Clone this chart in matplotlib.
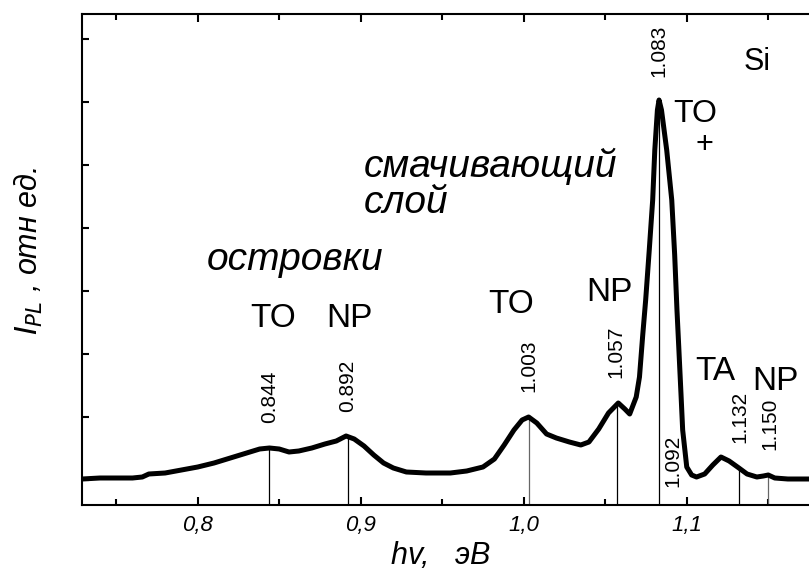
import matplotlib
matplotlib.use("Agg")
import matplotlib.pyplot as plt
import numpy as np
from matplotlib.ticker import MultipleLocator, FixedLocator, NullFormatter

plt.rcParams['font.family'] = ['Liberation Sans', 'DejaVu Sans']

# Photoluminescence spectrum (energy, eV ; intensity, arb. units)
energy = [0.729, 0.740, 0.750, 0.760, 0.766, 0.770, 0.780, 0.790, 0.800, 0.810,
          0.820, 0.830, 0.838, 0.844, 0.850, 0.856, 0.862, 0.870, 0.878, 0.885,
          0.891, 0.896, 0.902, 0.908, 0.914, 0.920, 0.928, 0.940, 0.955, 0.965,
          0.975, 0.982, 0.988, 0.994, 0.999, 1.003, 1.008, 1.014, 1.020, 1.028,
          1.035, 1.040, 1.046, 1.052, 1.058, 1.062, 1.065, 1.069, 1.071, 1.073,
          1.0748, 1.077, 1.0791, 1.0804, 1.082, 1.083, 1.0845, 1.0853, 1.0877, 1.0908,
          1.0926, 1.094, 1.0951, 1.0965, 1.0975, 1.100, 1.103, 1.106, 1.111, 1.116,
          1.121, 1.126, 1.132, 1.137, 1.143, 1.147, 1.150, 1.154, 1.162, 1.175]
intensity = [26, 27, 27, 27, 28, 31, 32, 35, 38, 42,
             47, 52, 56, 57, 56, 53, 54, 57, 61, 64,
             69, 66, 59, 50, 42, 37, 33, 32, 32, 34,
             38, 46, 60, 75, 85, 88, 82, 71, 67, 63,
             60, 63, 76, 92, 102, 96, 91, 108, 128, 170,
             205, 255, 305, 355, 395, 405, 395, 385, 355, 305,
             250, 195, 158, 110, 75, 38, 30, 28, 31, 40,
             48, 44, 37, 31, 28, 29, 30, 27, 26, 26]

# marked peak positions (eV) and their labels
line_positions = [0.844, 0.892, 1.003, 1.057, 1.083, 1.132, 1.150]
line_colors = ['black', 'black', '#666666', 'black', 'black', 'black', '#666666']

value_labels = ['0.844', '0.892', '1.003', '1.057', '1.083', '1.092', '1.132', '1.150']
value_label_x = [0.844, 0.892, 1.003, 1.0564, 1.083, 1.0914, 1.1325, 1.151]
value_label_y = [82, 93, 113, 127, 428, 18, 62, 55]

big_labels = ['TO', 'NP', 'TO', 'NP', 'TO', 'Si', 'TA', 'NP']
big_label_x = [0.846, 0.893, 0.9923, 1.0525, 1.1052, 1.143, 1.1178, 1.1546]
big_label_y = [178, 178, 192, 204, 383, 435, 125, 115]
big_label_size = [24, 24, 24, 24, 23, 22, 24, 24]

x_ticks = [0.8, 0.9, 1.0, 1.1]
x_tick_labels = ['0,8', '0,9', '1,0', '1,1']

fig = plt.figure(figsize=(8.09, 5.73), dpi=100)
ax = fig.add_axes([82/809, 1-505/573, 1-82/809, (505-14)/573])

ax.plot(energy, intensity, color='black', lw=3.6, solid_joinstyle='round', zorder=3)

for xp, c in zip(line_positions, line_colors):
    top = np.interp(xp, energy, intensity)
    ax.vlines(xp, 0, top, color=c, lw=0.9, zorder=2)

for t, x, y in zip(value_labels, value_label_x, value_label_y):
    ax.text(x, y, t, rotation=90, ha='center', va='bottom', fontsize=15)

for t, x, y, s in zip(big_labels, big_label_x, big_label_y, big_label_size):
    ax.text(x, y, t, ha='center', va='baseline', fontsize=s)

ax.text(1.111, 360, '+', ha='center', va='center', fontsize=22)

ax.text(0.860, 235, 'островки', ha='center', va='baseline', fontsize=28, style='italic')
ax.text(0.902, 328, 'смачивающий', ha='left', va='baseline', fontsize=28, style='italic')
ax.text(0.902, 292, 'слой', ha='left', va='baseline', fontsize=28, style='italic')

ax.set_xlim(0.729, 1.175)
ax.set_ylim(0, 491)

ax.set_xticks(x_ticks)
ax.set_xticklabels(x_tick_labels, fontsize=16, style='italic')
ax.xaxis.set_minor_locator(MultipleLocator(0.05))
ax.set_yticks([25, 151, 277, 403])
ax.yaxis.set_minor_locator(FixedLocator([88, 214, 340, 466]))
ax.yaxis.set_major_formatter(NullFormatter())

ax.tick_params(axis='x', which='both', direction='in', top=True, bottom=True, width=1.5)
ax.tick_params(axis='x', which='major', length=6, pad=7)
ax.tick_params(axis='x', which='minor', length=4)
ax.tick_params(axis='y', which='both', direction='in', left=True, right=False, width=1.5, length=5)

for s in ['left', 'top', 'bottom']:
    ax.spines[s].set_linewidth(1.5)
ax.spines['right'].set_visible(False)

fig.text(441/809, 1-564/573, 'hv,   эВ', ha='center', va='baseline', fontsize=22, style='italic')
fig.text(28/809, 1-251/573, r'$I_{PL}$ , отн ед.', rotation=90, ha='center', va='center',
         fontsize=22, style='italic')

fig.savefig('out.png', dpi=100)
